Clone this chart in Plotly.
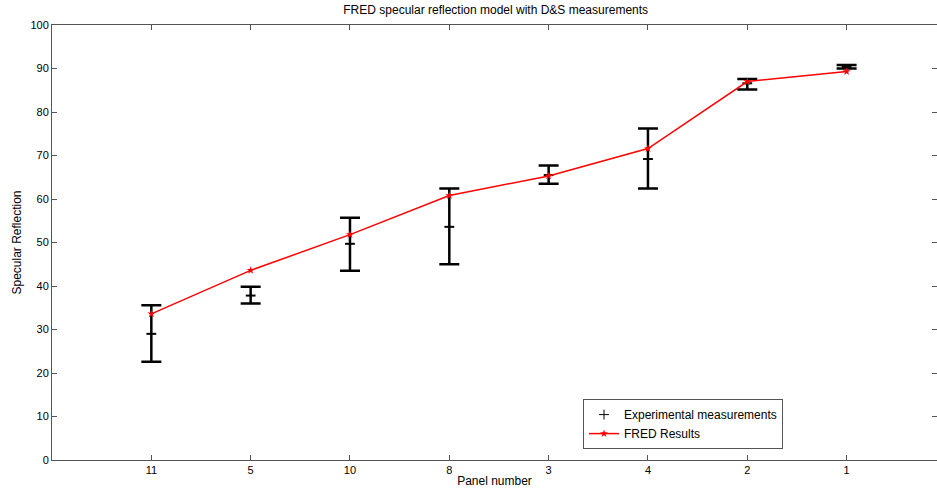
import plotly.graph_objects as go

panels = ["11", "5", "10", "8", "3", "4", "2", "1"]
positions = [1, 2, 3, 4, 5, 6, 7, 8]
exp_mean = [29.0, 37.8, 49.7, 53.6, 65.5, 69.2, 86.6, 90.4]
exp_upper = [35.6, 39.8, 55.7, 62.4, 67.7, 76.2, 87.6, 90.8]
exp_lower = [22.6, 36.0, 43.5, 45.0, 63.5, 62.4, 85.2, 90.0]
fred = [33.6, 43.6, 51.8, 60.8, 65.3, 71.6, 87.0, 89.3]
y_ticks = [0, 10, 20, 30, 40, 50, 60, 70, 80, 90, 100]

err_plus = [u - m for u, m in zip(exp_upper, exp_mean)]
err_minus = [m - l for m, l in zip(exp_mean, exp_lower)]

font = "Liberation Sans, Arial, sans-serif"

fig = go.Figure()
fig.add_trace(go.Scatter(
    x=positions, y=exp_mean, mode="markers", name="Experimental measurements",
    marker=dict(symbol="line-ew", size=7, color="black", line=dict(width=2, color="black")),
    error_y=dict(type="data", symmetric=False, array=err_plus, arrayminus=err_minus,
                 color="black", thickness=2.5, width=10),
    showlegend=False,
))
# legend entry with plus marker
fig.add_trace(go.Scatter(
    x=[None], y=[None], mode="markers", name="Experimental measurements",
    marker=dict(symbol="cross-thin", size=7, color="black", line=dict(width=1, color="black")),
))
fig.add_trace(go.Scatter(
    x=positions, y=fred, mode="lines+markers", name="FRED Results",
    line=dict(color="#ff0000", width=1.5),
    marker=dict(symbol="star", size=6, color="#ff0000"),
))

fig.update_layout(
    width=937, height=491,
    margin=dict(l=52, r=0, t=25, b=31),
    paper_bgcolor="white", plot_bgcolor="white",
    font=dict(family=font, size=11, color="black"),
    title=dict(text="FRED specular reflection model with D&S measurements",
               x=0.529, xanchor="center", y=0.988, yanchor="top",
               font=dict(size=12, family=font)),
    showlegend=True,
    legend=dict(x=0.6, y=0.14, xanchor="left", yanchor="top",
                bgcolor="white", bordercolor="#555555", borderwidth=1,
                font=dict(size=12, family=font), tracegroupgap=0,
                itemwidth=30),
    hovermode=False,
)
fig.update_xaxes(
    range=[0, 8.91], tickvals=positions, ticktext=panels,
    showline=True, linecolor="#555555", linewidth=1, mirror="ticks",
    ticks="inside", ticklen=5, tickcolor="#555555",
    showgrid=False, zeroline=False,
    title=dict(text="Panel number", standoff=1, font=dict(size=12)),
)
fig.update_yaxes(
    range=[0, 100], tickvals=y_ticks,
    showline=True, linecolor="#555555", linewidth=1, mirror="ticks",
    ticks="inside", ticklen=5, tickcolor="#555555",
    showgrid=False, zeroline=False,
    title=dict(text="Specular Reflection", standoff=6, font=dict(size=12)),
)

fig.write_html("out.html")
